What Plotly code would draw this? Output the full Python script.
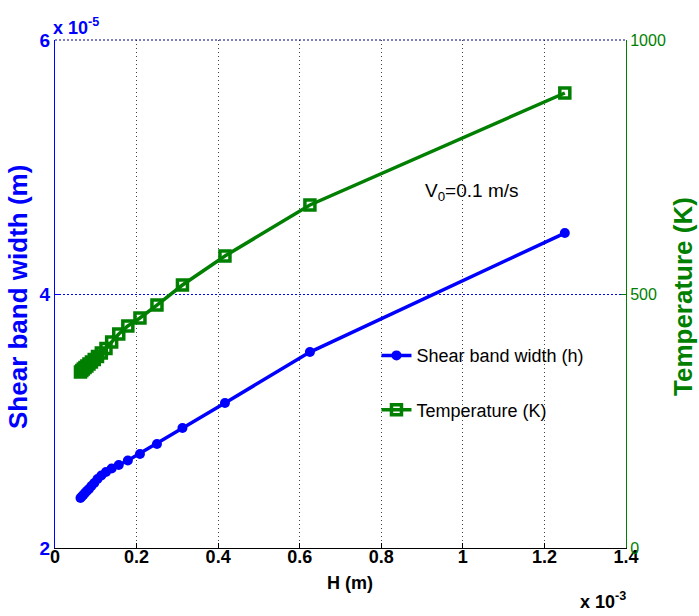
import plotly.graph_objects as go

# H values (x 10^-3 m)
H = [1.25, 0.625, 0.4167, 0.3125, 0.25, 0.2083, 0.1786, 0.1563, 0.1389, 0.125,
     0.1136, 0.1042, 0.0962, 0.0893, 0.0833, 0.0781, 0.0735, 0.0694, 0.0658, 0.0625]
# Shear band width (x 10^-5 m)
width = [4.480, 3.543, 3.142, 2.945, 2.819, 2.740, 2.689, 2.654, 2.626, 2.598,
         2.571, 2.543, 2.512, 2.488, 2.465, 2.449, 2.433, 2.417, 2.406, 2.394]
# Temperature (K)
temp = [895.7, 675.2, 574.8, 517.7, 478.3, 452.8, 437.0, 421.3, 405.5, 392.7,
        383.9, 377.0, 371.1, 366.1, 362.2, 358.3, 355.3, 352.4, 349.4, 346.5]

x_ticks = [0, 0.2, 0.4, 0.6, 0.8, 1.0, 1.2, 1.4]
x_ticktext = ["0", "0.2", "0.4", "0.6", "0.8", "1", "1.2", "1.4"]
y1_ticks = [2, 4, 6]
y2_ticks = [0, 500, 1000]

BLUE = "#0000FF"
GREEN = "#007F00"
SANS = "Liberation Sans, Arial, sans-serif"

fig = go.Figure()
fig.add_trace(go.Scatter(
    x=H, y=width, mode="lines+markers", name="Shear band width (h)",
    line=dict(color=BLUE, width=3.5),
    marker=dict(symbol="circle", size=10, color=BLUE),
    legendgroup="a", yaxis="y"))
fig.add_trace(go.Scatter(
    x=H, y=temp, mode="lines+markers", name="Temperature (K)",
    line=dict(color=GREEN, width=3.5),
    marker=dict(symbol="square-open", size=10, color=GREEN, line=dict(width=3.5, color=GREEN)),
    legendgroup="b", yaxis="y2"))

fig.update_layout(
    width=699, height=616,
    margin=dict(l=55, r=73, t=40, b=68),
    paper_bgcolor="white", plot_bgcolor="white",
    showlegend=True,
    legend=dict(x=0.563, y=0.415, xanchor="left", yanchor="top",
                bgcolor="rgba(0,0,0,0)", font=dict(family=SANS, size=18, color="black"),
                tracegroupgap=28, traceorder="grouped"),
    xaxis=dict(range=[0, 1.4], tickvals=x_ticks, ticktext=x_ticktext,
               showgrid=True, gridcolor="#444444", griddash="1px,3px", gridwidth=1,
               showline=True, linecolor="black", linewidth=1,
               ticks="inside", ticklen=5, tickcolor="black",
               tickfont=dict(family=SANS, size=18, color="black", weight="bold"),
               ticklabelstandoff=-8,
               zeroline=False),
    yaxis=dict(range=[2, 6], tickvals=y1_ticks, ticktext=["2", "4", "6"],
               showgrid=True, gridcolor=BLUE, griddash="2px,2px", gridwidth=1,
               showline=True, linecolor=BLUE, linewidth=1,
               ticks="inside", ticklen=5, tickcolor=BLUE,
               tickfont=dict(family=SANS, size=19, color=BLUE, weight="bold"),
               zeroline=False),
    yaxis2=dict(range=[0, 1000], tickvals=y2_ticks, overlaying="y", side="right",
                showgrid=False, showline=True, linecolor=GREEN, linewidth=1,
                ticks="inside", ticklen=5, tickcolor=GREEN,
                tickfont=dict(family=SANS, size=16, color=GREEN),
                zeroline=False),
    shapes=[dict(type="line", xref="paper", yref="paper", x0=0, x1=1, y0=1, y1=1,
                 line=dict(color="#000080", width=1, dash="2px,2px"))],
)

anns = [
    dict(text="<b>Shear band width (m)</b>", x=18, y=297, textangle=-90,
         font=dict(family=SANS, size=26, color=BLUE)),
    dict(text="<b>Temperature (K)</b>", x=683, y=297, textangle=-90,
         font=dict(family=SANS, size=26, color=GREEN)),
    dict(text="<b>H (m)</b>", x=350, y=583, font=dict(family=SANS, size=18, color="black")),
    dict(text="<b>x 10<sup>-5</sup></b>", x=76, y=26, font=dict(family=SANS, size=18, color=BLUE)),
    dict(text="<b>x 10<sup>-3</sup></b>", x=603, y=600, font=dict(family=SANS, size=18, color="black")),
    dict(text="V<sub>0</sub>=0.1 m/s", x=472, y=192, font=dict(family=SANS, size=19, color="black")),
]
for a in anns:
    px, py = a.pop("x"), a.pop("y")
    fig.add_annotation(xref="paper", yref="paper",
                       x=(px - 55) / 571, y=(548 - py) / 508,
                       xanchor="center", yanchor="middle", showarrow=False, **a)

fig.write_html("out.html")
